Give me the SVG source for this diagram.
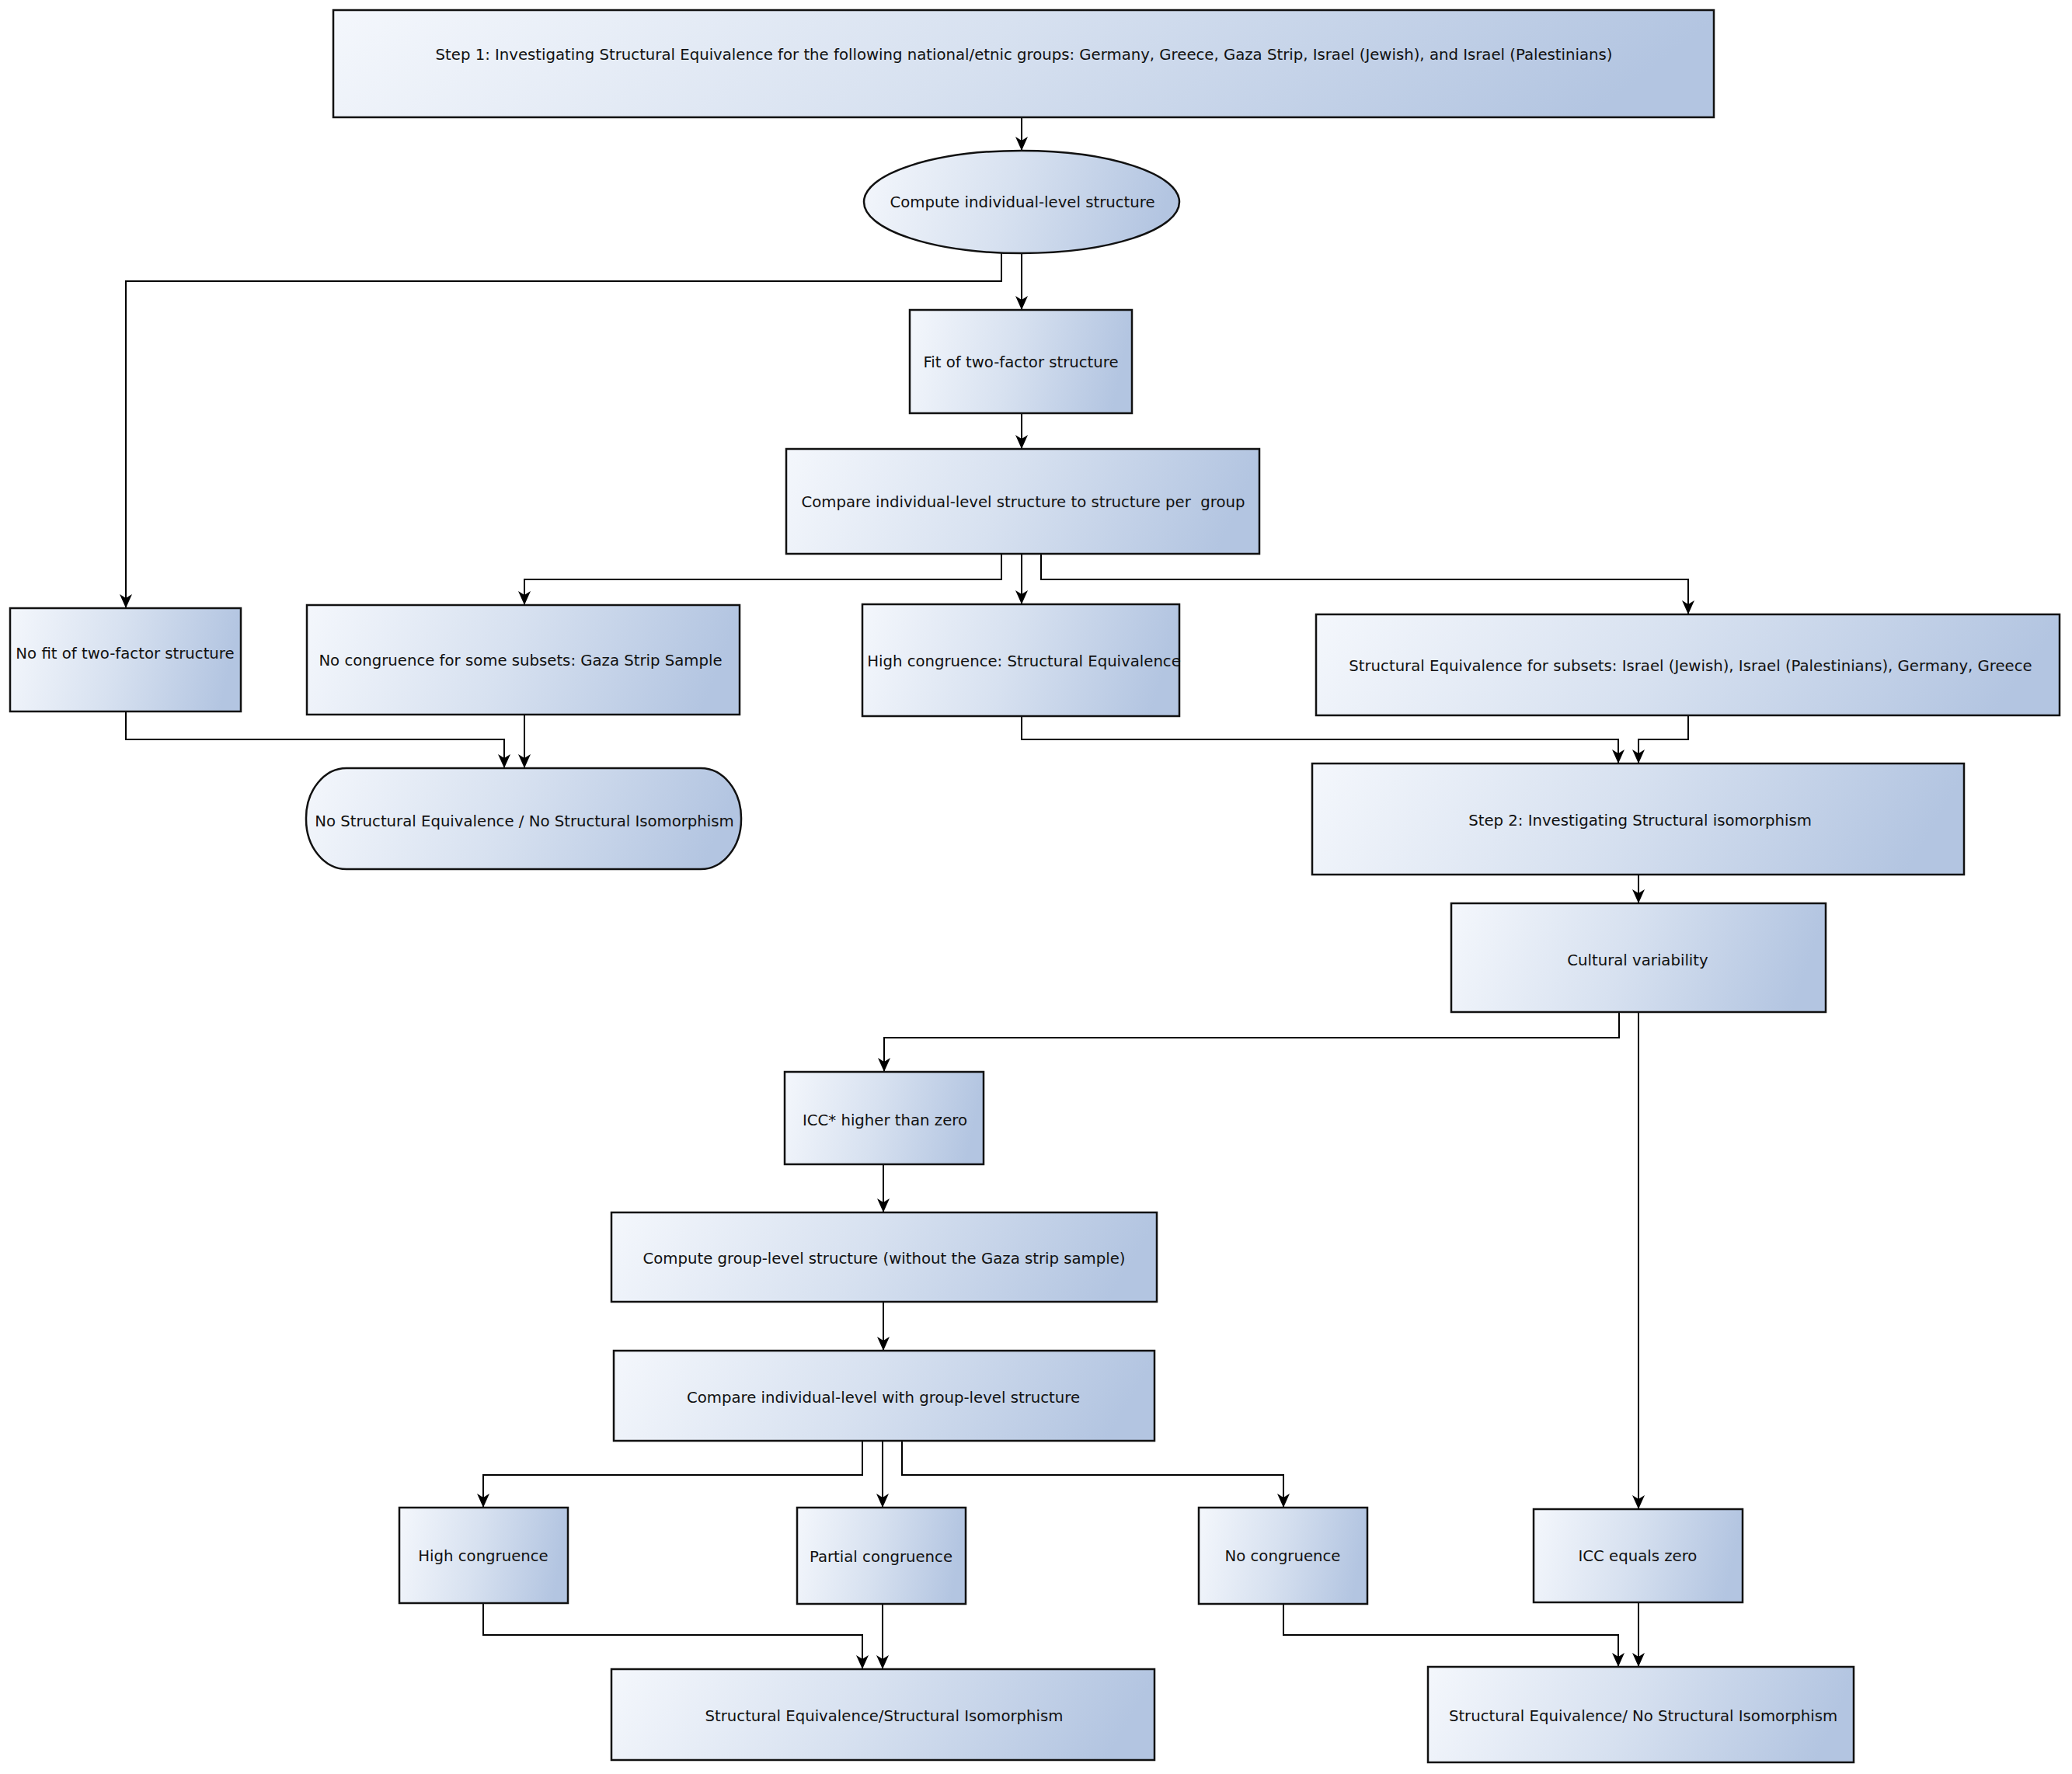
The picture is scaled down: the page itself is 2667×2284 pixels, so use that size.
<svg xmlns="http://www.w3.org/2000/svg" width="2667" height="2284" viewBox="0 0 2667 2284">
<defs>
<linearGradient id="g" x1="0" y1="0" x2="1" y2="0.1">
<stop offset="0" stop-color="#f4f7fc"/>
<stop offset="0.5" stop-color="#d7e1f0"/>
<stop offset="1" stop-color="#b3c5e1"/>
</linearGradient>
<marker id="ah" viewBox="0 0 18 16" refX="18" refY="8" markerWidth="18" markerHeight="16" markerUnits="userSpaceOnUse" orient="auto">
<path d="M0,0 L18,8 L0,16 L5,8 Z" fill="#000"/>
</marker>
<style>
.n{fill:url(#g);stroke:#111;stroke-width:2.5}
.t{font-family:"DejaVu Sans","Liberation Sans",sans-serif;font-size:19.7px;fill:#111;text-anchor:middle}
.c{fill:none;stroke:#000;stroke-width:2;marker-end:url(#ah)}
</style>
</defs>
<rect width="2667" height="2284" fill="#fff"/>
<g id="connectors">
<path class="c" d="M1315,151 V194"/>
<path class="c" d="M1315,326 V399"/>
<path class="c" d="M1289,325 V362 H162 V783"/>
<path class="c" d="M1315,532 V578"/>
<path class="c" d="M1289,713 V746 H675 V779"/>
<path class="c" d="M1315,713 V778"/>
<path class="c" d="M1340,713 V746 H2173 V791"/>
<path class="c" d="M162,916 V952 H649 V989"/>
<path class="c" d="M675,920 V989"/>
<path class="c" d="M1315,922 V952 H2083 V983"/>
<path class="c" d="M2173,921 V952 H2109 V983"/>
<path class="c" d="M2109,1126 V1163"/>
<path class="c" d="M2084,1303 V1336 H1138 V1380"/>
<path class="c" d="M2109,1303 V1943"/>
<path class="c" d="M1137,1499 V1561"/>
<path class="c" d="M1137,1676 V1739"/>
<path class="c" d="M1110,1855 V1899 H622 V1941"/>
<path class="c" d="M1136,1855 V1941"/>
<path class="c" d="M1161,1855 V1899 H1652 V1941"/>
<path class="c" d="M622,2064 V2105 H1110 V2149"/>
<path class="c" d="M1136,2065 V2149"/>
<path class="c" d="M1652,2065 V2105 H2083 V2146"/>
<path class="c" d="M2109,2063 V2146"/>
</g>
<g id="step1"><rect class="n" x="429" y="13" width="1777" height="138"/><text class="t" x="1318" y="77">Step 1: Investigating Structural Equivalence for the following national/etnic groups: Germany, Greece, Gaza Strip, Israel (Jewish), and Israel (Palestinians)</text></g>
<g id="compute-individual"><ellipse class="n" cx="1315" cy="260" rx="203" ry="66"/><text class="t" x="1316" y="267">Compute individual-level structure</text></g>
<g id="fit"><rect class="n" x="1171" y="399" width="286" height="133"/><text class="t" x="1314" y="473">Fit of two-factor structure</text></g>
<g id="compare1"><rect class="n" x="1012" y="578" width="609" height="135"/><text class="t" x="1317" y="653" xml:space="preserve">Compare individual-level structure to structure per  group</text></g>
<g id="nofit"><rect class="n" x="13" y="783" width="297" height="133"/><text class="t" x="161" y="848">No fit of two-factor structure</text></g>
<g id="nocong1"><rect class="n" x="395" y="779" width="557" height="141"/><text class="t" x="670" y="857">No congruence for some subsets: Gaza Strip Sample</text></g>
<g id="highcong1"><rect class="n" x="1110" y="778" width="408" height="144"/><text class="t" x="1318" y="858">High congruence: Structural Equivalence</text></g>
<g id="subsets"><rect class="n" x="1694" y="791" width="957" height="130"/><text class="t" x="2176" y="864">Structural Equivalence for subsets: Israel (Jewish), Israel (Palestinians), Germany, Greece</text></g>
<g id="noequiv"><rect class="n" x="394" y="989" width="560" height="130" rx="52" ry="64"/><text class="t" x="675" y="1064">No Structural Equivalence / No Structural Isomorphism</text></g>
<g id="step2"><rect class="n" x="1689" y="983" width="839" height="143"/><text class="t" x="2111" y="1063">Step 2: Investigating Structural isomorphism</text></g>
<g id="cultural"><rect class="n" x="1868" y="1163" width="482" height="140"/><text class="t" x="2108" y="1243">Cultural variability</text></g>
<g id="icc-higher"><rect class="n" x="1010" y="1380" width="256" height="119"/><text class="t" x="1139" y="1449">ICC* higher than zero</text></g>
<g id="compute-group"><rect class="n" x="787" y="1561" width="702" height="115"/><text class="t" x="1138" y="1627">Compute group-level structure (without the Gaza strip sample)</text></g>
<g id="compare2"><rect class="n" x="790" y="1739" width="696" height="116"/><text class="t" x="1137" y="1806">Compare individual-level with group-level structure</text></g>
<g id="highcong2"><rect class="n" x="514" y="1941" width="217" height="123"/><text class="t" x="622" y="2010">High congruence</text></g>
<g id="partial"><rect class="n" x="1026" y="1941" width="217" height="124"/><text class="t" x="1134" y="2011">Partial congruence</text></g>
<g id="nocong2"><rect class="n" x="1543" y="1941" width="217" height="124"/><text class="t" x="1651" y="2010">No congruence</text></g>
<g id="icc-zero"><rect class="n" x="1974" y="1943" width="269" height="120"/><text class="t" x="2108" y="2010">ICC equals zero</text></g>
<g id="result-iso"><rect class="n" x="787" y="2149" width="699" height="117"/><text class="t" x="1138" y="2216">Structural Equivalence/Structural Isomorphism</text></g>
<g id="result-noiso"><rect class="n" x="1838" y="2146" width="548" height="123"/><text class="t" x="2115" y="2216">Structural Equivalence/ No Structural Isomorphism</text></g>
</svg>
